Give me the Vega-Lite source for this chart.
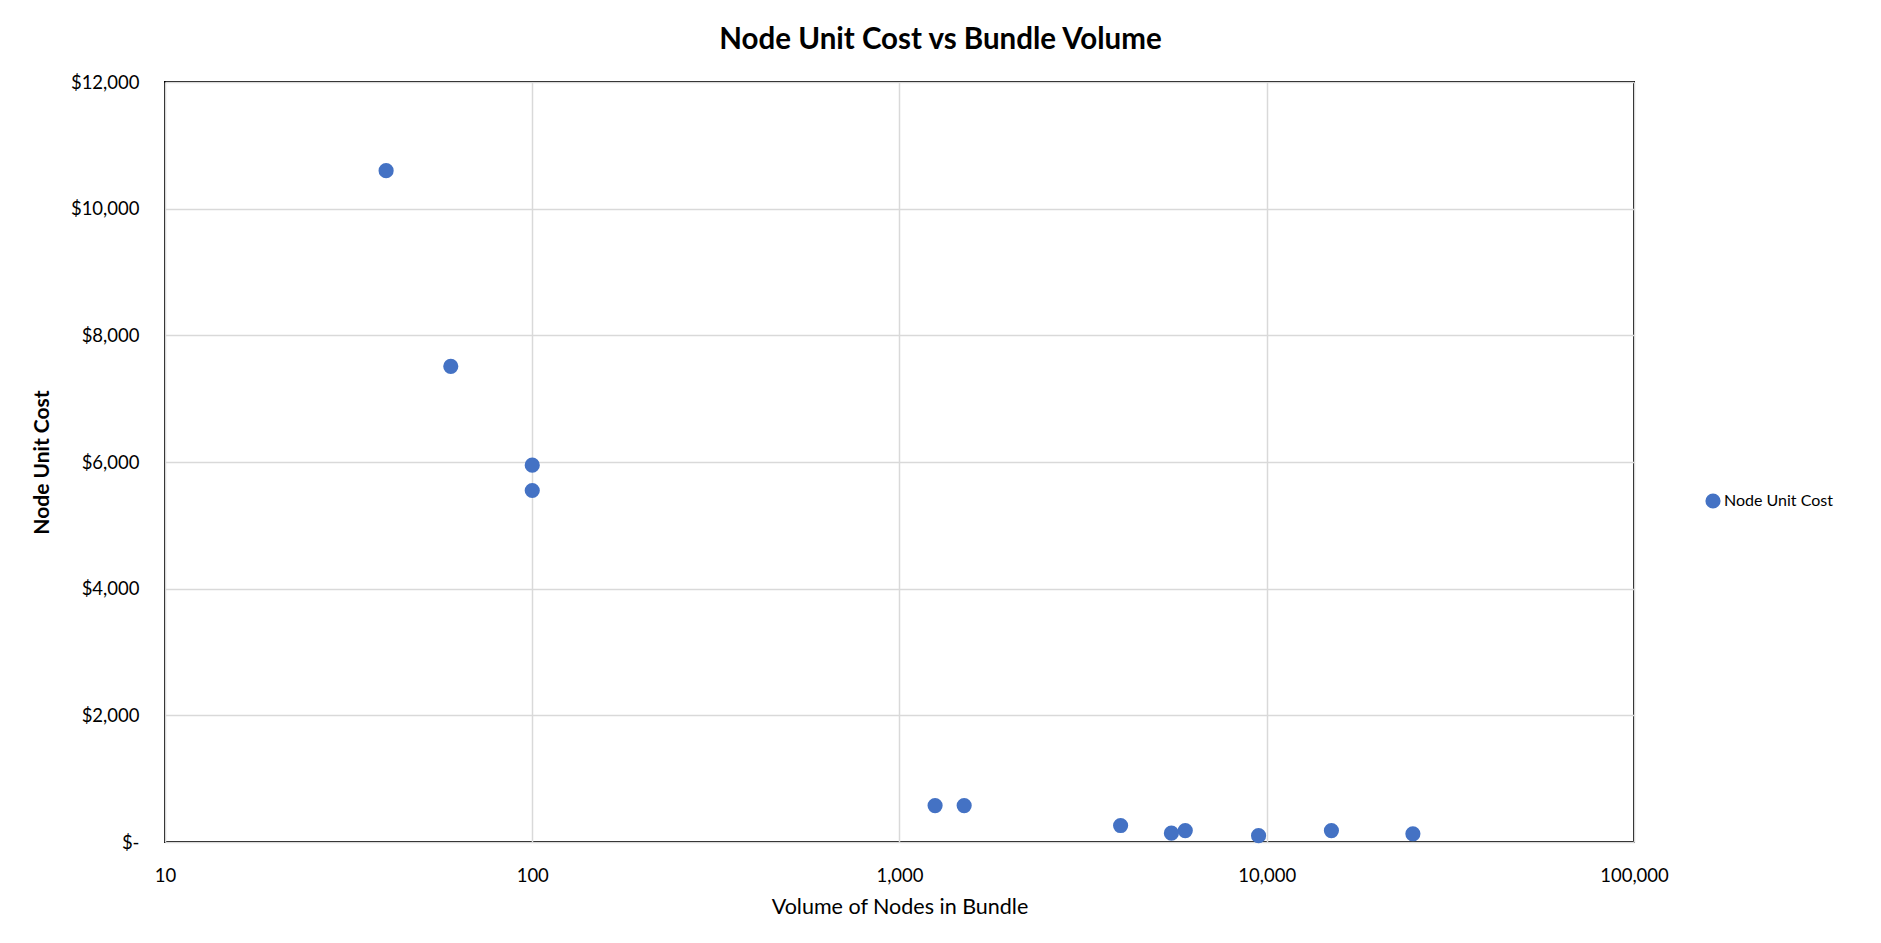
{
  "$schema": "https://vega.github.io/schema/vega-lite/v6.json",
  "width": 1469,
  "height": 760,
  "autosize": {"type": "none"},
  "padding": {"left": 165, "top": 82, "right": 247, "bottom": 101},
  "background": "white",
  "title": {
    "text": "Node Unit Cost vs Bundle Volume",
    "anchor": "middle",
    "frame": "group",
    "dx": 41,
    "offset": 18,
    "font": "Lato",
    "fontSize": 29.5,
    "fontWeight": "bold",
    "color": "#000000"
  },
  "config": {
    "view": {"stroke": "#000000", "strokeWidth": 2},
    "font": "Lato"
  },
  "data": {
    "values": [
      {"volume": 40, "cost": 10600, "series": "Node Unit Cost"},
      {"volume": 60, "cost": 7510, "series": "Node Unit Cost"},
      {"volume": 100, "cost": 5950, "series": "Node Unit Cost"},
      {"volume": 100, "cost": 5550, "series": "Node Unit Cost"},
      {"volume": 1250, "cost": 575, "series": "Node Unit Cost"},
      {"volume": 1500, "cost": 575, "series": "Node Unit Cost"},
      {"volume": 4000, "cost": 260, "series": "Node Unit Cost"},
      {"volume": 5500, "cost": 140, "series": "Node Unit Cost"},
      {"volume": 6000, "cost": 180, "series": "Node Unit Cost"},
      {"volume": 9500, "cost": 100, "series": "Node Unit Cost"},
      {"volume": 15000, "cost": 180, "series": "Node Unit Cost"},
      {"volume": 25000, "cost": 130, "series": "Node Unit Cost"}
    ]
  },
  "mark": {"type": "point", "filled": true, "opacity": 1, "size": 230},
  "encoding": {
    "x": {
      "field": "volume",
      "type": "quantitative",
      "scale": {"type": "log", "domain": [10, 100000], "nice": false},
      "axis": {
        "title": "Volume of Nodes in Bundle",
        "values": [10, 100, 1000, 10000, 100000],
        "format": ",",
        "grid": true,
        "gridColor": "#d9d9d9",
        "gridWidth": 1.5,
        "domain": false,
        "ticks": false,
        "labelFlush": false,
        "labelPadding": 24,
        "labelFontSize": 18.5,
        "labelColor": "#000000",
        "titleFontSize": 21.5,
        "titleFontWeight": "normal",
        "titleColor": "#000000",
        "titlePadding": 12
      }
    },
    "y": {
      "field": "cost",
      "type": "quantitative",
      "scale": {"domain": [0, 12000], "nice": false},
      "axis": {
        "title": "Node Unit Cost",
        "values": [0, 2000, 4000, 6000, 8000, 10000, 12000],
        "labelExpr": "datum.value == 0 ? '$-' : '$' + format(datum.value, ',')",
        "grid": true,
        "gridColor": "#d9d9d9",
        "gridWidth": 1.5,
        "domain": false,
        "ticks": false,
        "labelFlush": false,
        "labelPadding": 26,
        "labelFontSize": 18.5,
        "labelColor": "#000000",
        "titleFontSize": 21,
        "titleFontWeight": "bold",
        "titleColor": "#000000",
        "titlePadding": 18
      }
    },
    "color": {
      "field": "series",
      "type": "nominal",
      "scale": {"range": ["#4472C4"]},
      "legend": {
        "title": null,
        "orient": "none",
        "legendX": 1540,
        "legendY": 411,
        "padding": 0,
        "symbolType": "circle",
        "symbolSize": 230,
        "symbolStrokeWidth": 0,
        "labelFontSize": 16,
        "labelColor": "#000000",
        "labelOffset": 3
      }
    }
  }
}
